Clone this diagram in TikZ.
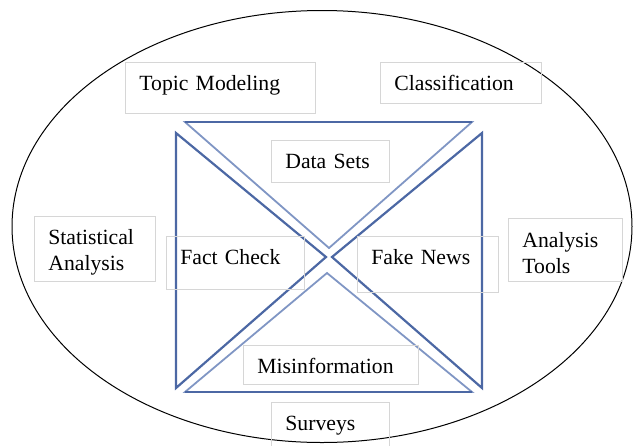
\documentclass[tikz,border=0pt]{standalone}
\usepackage{fontspec}
\setmainfont{Liberation Serif}

\definecolor{xdark}{RGB}{76,104,164}
\definecolor{xlight}{RGB}{128,150,196}
\definecolor{boxgray}{RGB}{214,214,214}

\begin{document}
\begin{tikzpicture}[
		x=0.5pt, y=-0.5pt,
		font=\fontsize{10.85}{13}\selectfont,
		tbox/.style={draw=boxgray, line width=0.4pt, anchor=north west, align=left, inner xsep=7pt, inner ysep=0pt, text height=14pt},
		wing/.style={xdark, line width=1.1pt, line join=miter},
		wingl/.style={xlight, line width=0.9pt, line join=miter},
	]
		\useasboundingbox (0,0) rectangle (637,445);

		% outer ellipse
		\draw[line width=0.5pt] (322,226.5) ellipse [x radius=310, y radius=216];

		% the four triangles of the X
		\draw[wingl] (185,122) -- (472,122) -- (329,248) -- cycle;
		\draw[wing] (185,122) -- (472,122);
		\draw[wingl] (185,392) -- (472,392) -- (327,273) -- cycle;
		\draw[wing] (185,392) -- (472,392);
		\draw[wing] (176,133) -- (176,388) -- (326,257) -- cycle;
		\draw[wing] (482,133) -- (482,388) -- (332,257) -- cycle;

		% labels
		\node[tbox, text width=81pt, text depth=11.5pt] (topic) at (125,62) {Topic Modeling};
		\node[tbox, text width=66.5pt, text depth=6.5pt] (class) at (380,62) {Classification};
		\node[tbox, text width=45pt, text depth=7pt] (data) at (271,140) {Data Sets};
		\node[tbox, text width=46.5pt, text depth=18.5pt] (stat) at (34,216) {Statistical\\Analysis};
		\node[tbox, text width=55pt, text depth=12.5pt] (fact) at (166,236) {Fact Check};
		\node[tbox, text width=56.5pt, text depth=14pt] (fake) at (357,236) {Fake News};
		\node[tbox, text width=43pt, text height=14.5pt, text depth=17pt] (tools) at (508,218) {Analysis\\Tools};
		\node[tbox, text width=73.5pt, text depth=5.5pt] (misinfo) at (243,345) {Misinformation};
		\node[tbox, text width=45pt, text depth=8.5pt] (surveys) at (271,402) {Surveys};
	\end{tikzpicture}
\end{document}
